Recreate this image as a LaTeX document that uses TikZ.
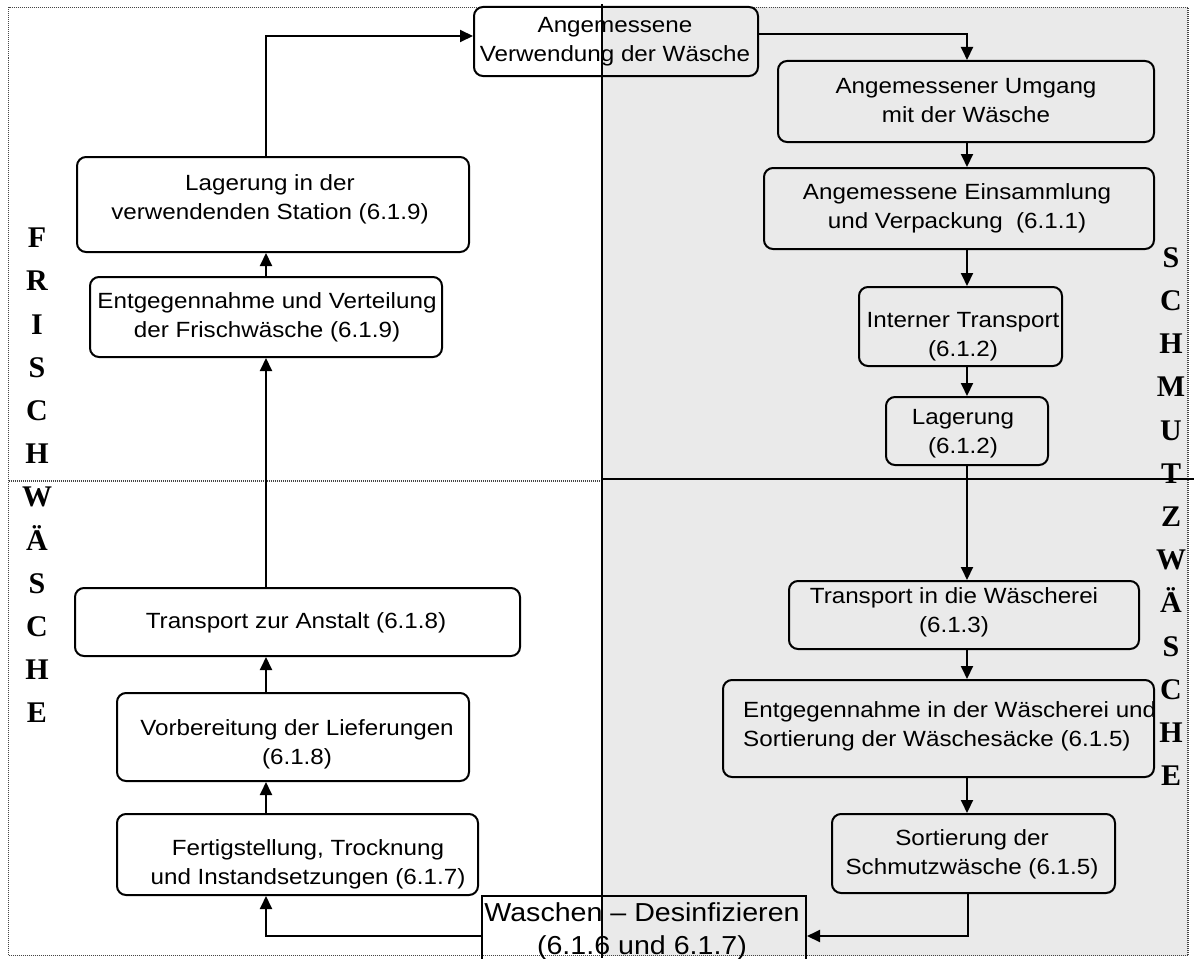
\documentclass[tikz,border=0pt]{standalone}
\usepackage{fontspec}
\setmainfont{Liberation Sans}[FakeStretch=1.1]
\newfontfamily\lettf{Liberation Serif}
\usetikzlibrary{arrows.meta}
\definecolor{bggray}{RGB}{234,234,234}
\definecolor{dotgray}{RGB}{70,70,70}
\begin{document}
\begin{tikzpicture}[x=1pt,y=-1pt,
  box/.style={draw, line width=2pt, rounded corners=9pt, inner sep=0pt},
  sbox/.style={draw, line width=2pt, inner sep=0pt},
  txt/.style={inner sep=0pt, align=center, font=\fontsize{22}{29}\selectfont},
  arr/.style={line width=2pt, -{Triangle[length=13pt,width=12pt]}},
  ln/.style={line width=2pt},
  dots/.style={line width=1.2pt, dotgray, dash pattern=on 1pt off 1pt},
  letters/.style={inner sep=0pt, align=center, font=\lettf\bfseries\fontsize{30}{43.2}\selectfont}]

\useasboundingbox (0,0) rectangle (1196,958);
\clip (0,0) rectangle (1196,958);

% background regions
\fill[bggray] (602,7.5) rectangle (1188,955.5);
\draw[dots] (8.5,7.5) rectangle (1188,955.5);
\draw[dots] (8.5,481) -- (602,481);
\draw[ln] (602,4) -- (602,958);
\draw[ln] (602,479) -- (1194,479);

% boxes
\node[box, minimum width=284pt, minimum height=69pt] (top) at (616,41.5) {};
\node[box, minimum width=376pt, minimum height=81pt] (umgang) at (966,101.5) {};
\node[box, minimum width=390pt, minimum height=81pt] (eins) at (959,208.5) {};
\node[box, minimum width=203pt, minimum height=79pt] (intern) at (960.5,326.5) {};
\node[box, minimum width=162pt, minimum height=68pt] (lag2) at (967,431) {};
\node[box, minimum width=350pt, minimum height=68pt] (transW) at (964,615) {};
\node[box, minimum width=431pt, minimum height=97pt] (entgW) at (938.5,728.5) {};
\node[box, minimum width=283pt, minimum height=79pt] (sort) at (973.5,853.5) {};
\node[sbox, minimum width=324pt, minimum height=80pt] (wasch) at (644,936) {};
\node[box, minimum width=361pt, minimum height=81pt] (fertig) at (297.5,854.5) {};
\node[box, minimum width=352pt, minimum height=88pt] (vorb) at (293,737) {};
\node[box, minimum width=445pt, minimum height=68pt] (transA) at (297.5,622) {};
\node[box, minimum width=352pt, minimum height=80pt] (entg9) at (266,317) {};
\node[box, minimum width=392pt, minimum height=95pt] (lag9) at (273,204.5) {};

% texts
\node[txt] (ttop) at (615,41.5) {Angemessene\\Verwendung der Wäsche};
\node[txt] (tumgang) at (966,101) {Angemessener Umgang\\mit der Wäsche};
\node[txt] (teins) at (957,208.5) {Angemessene Einsammlung\\und Verpackung~ (6.1.1)};
\node[txt] (tintern) at (963,337) {Interner Transport\\(6.1.2)};
\node[txt] (tlag2) at (963,434) {Lagerung\\(6.1.2)};
\node[txt] (ttransW) at (954,612) {Transport in die Wäscherei\\(6.1.3)};
\node[txt, anchor=west, align=left] (tentgW) at (743,726) {Entgegennahme in der Wäscherei und\\Sortierung der Wäschesäcke (6.1.5)};
\node[txt] (tsort) at (972,854) {Sortierung der\\Schmutzwäsche (6.1.5)};
\node[txt, font=\fontsize{26}{33}\selectfont] (twasch) at (642,931) {Waschen – Desinfizieren\\(6.1.6 und 6.1.7)};
\node[txt] (tfertig) at (308,864) {Fertigstellung, Trocknung\\und Instandsetzungen (6.1.7)};
\node[txt] (tvorb) at (297,744.5) {Vorbereitung der Lieferungen\\(6.1.8)};
\node[txt] (ttransA) at (296,623) {Transport zur Anstalt (6.1.8)};
\node[txt] (tentg9) at (267,317.5) {Entgegennahme und Verteilung\\der Frischwäsche (6.1.9)};
\node[txt] (tlag9) at (270,199.5) {Lagerung in der\\verwendenden Station (6.1.9)};

% side letters
\node[letters] (frisch) at (37,475.5) {F\\R\\I\\S\\C\\H\\W\\Ä\\S\\C\\H\\E};
\node[letters] (schmutz) at (1171,516.5) {S\\C\\H\\M\\U\\T\\Z\\W\\Ä\\S\\C\\H\\E};

% connectors
\coordinate (lc) at (266,0);
\coordinate (rc) at (967,0);
\draw[arr] ([yshift=7.5pt]top.east) -| (rc |- umgang.north);
\draw[arr] (rc |- umgang.south) -- (rc |- eins.north);
\draw[arr] (rc |- eins.south) -- (rc |- intern.north);
\draw[arr] (rc |- intern.south) -- (rc |- lag2.north);
\draw[arr] (rc |- lag2.south) -- (rc |- transW.north);
\draw[arr] (rc |- transW.south) -- (rc |- entgW.north);
\draw[arr] (rc |- entgW.south) -- (rc |- sort.north);
\draw[arr] ([xshift=-5.5pt]sort.south) |- (wasch.east);
\draw[arr] (wasch.west) -| (lc |- fertig.south);
\draw[arr] (lc |- fertig.north) -- (lc |- vorb.south);
\draw[arr] (lc |- vorb.north) -- (lc |- transA.south);
\draw[arr] (lc |- transA.north) -- (lc |- entg9.south);
\draw[arr] (lc |- entg9.north) -- (lc |- lag9.south);
\draw[arr] (lc |- lag9.north) |- ([yshift=5.5pt]top.west);
\end{tikzpicture}
\end{document}
